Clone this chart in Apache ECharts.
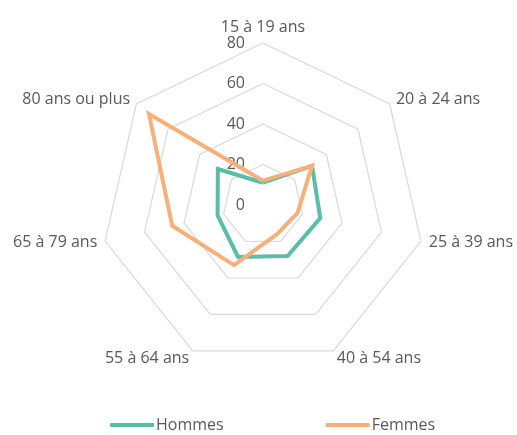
<!DOCTYPE html>
<html>
<head>
<meta charset="utf-8">
<script src="https://cdn.jsdelivr.net/npm/echarts@6/dist/echarts.min.js"></script>
<style>
  html, body { margin: 0; padding: 0; background: #fff; }
  #chart { width: 517px; height: 435px; }
</style>
</head>
<body>
<div id="chart"></div>
<script>
// tranches d'âge, dans le sens horaire depuis le haut
const categories = ['15 à 19 ans', '20 à 24 ans', '25 à 39 ans', '40 à 54 ans', '55 à 64 ans', '65 à 79 ans', '80 ans ou plus']
const hommes = [11, 31, 29, 28, 28.5, 23, 28.5]
const femmes = [12, 31, 17.5, 16, 33, 46, 72]
const axisMax = 80

const textColor = '#595959'
const font = '"Open Sans", sans-serif'

// le radar d'echarts tourne dans le sens anti-horaire : on inverse l'ordre
const order = [0, 6, 5, 4, 3, 2, 1]
const pick = arr => order.map(i => arr[i])

const chart = echarts.init(document.getElementById('chart'))

const indicator = pick(categories).map((name, i) => {
  const item = { name: name, max: axisMax, min: 0 }
  // seul le premier axe porte les graduations
  if (i === 0) {
    item.axisLabel = { show: true }
  }
  return item
})

const option = {
  animation: false,
  color: ['#5abea7', '#f7b07a'],
  legend: {
    bottom: -3,
    left: 105,
    icon: 'roundRect',
    itemWidth: 44,
    itemHeight: 4,
    itemGap: 102,
    data: ['Hommes', 'Femmes'],
    textStyle: { color: textColor, fontSize: 16, fontFamily: font, padding: [0, 0, 0, -3] }
  },
  radar: {
    center: [263, 205],
    radius: 162,
    startAngle: 90,
    shape: 'polygon',
    splitNumber: 4,
    nameGap: 8,
    axisName: { color: textColor, fontSize: 16, fontFamily: font },
    axisLine: { show: false },
    axisTick: { show: false },
    splitLine: { lineStyle: { color: '#d9d9d9', width: 1.2 } },
    splitArea: { show: false },
    axisLabel: { show: false, color: textColor, fontSize: 16, fontFamily: font, margin: 18 },
    indicator: indicator
  },
  series: [
    {
      type: 'radar',
      symbol: 'none',
      lineStyle: { width: 4, join: 'miter' },
      data: [
        { name: 'Hommes', value: pick(hommes) },
        { name: 'Femmes', value: pick(femmes) }
      ]
    }
  ]
}

chart.setOption(option)
</script>
</body>
</html>
